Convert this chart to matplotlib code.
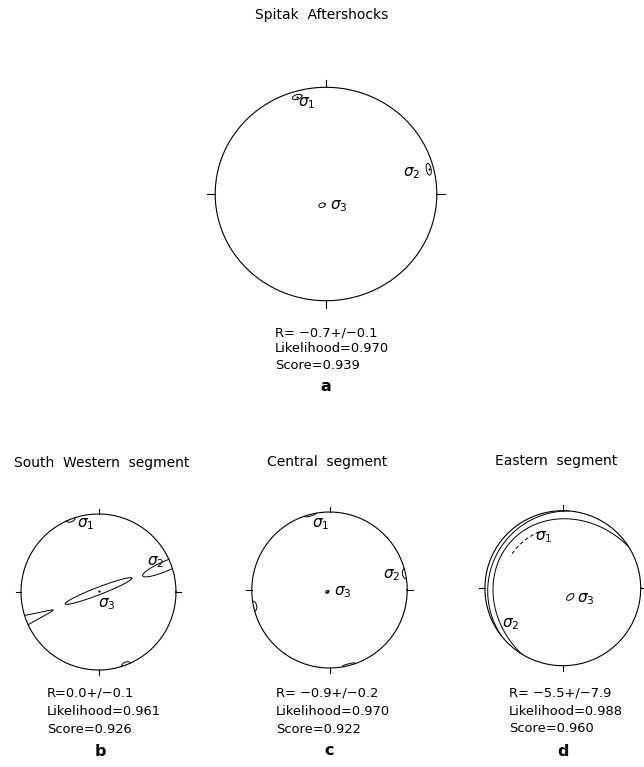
import numpy as np
import matplotlib
matplotlib.use("Agg")
import matplotlib.pyplot as plt

plt.rcParams['font.family'] = ['DejaVu Sans']
plt.rcParams['mathtext.fontset'] = 'dejavusans'

W, H = 644, 767

# ---- inversion results -------------------------------------------------
panel_letters = ["a", "b", "c", "d"]
panel_titles = ["Spitak  Aftershocks", "South  Western  segment",
                "Central  segment", "Eastern  segment"]
r_values = ["R= \u22120.7+/\u22120.1", "R=0.0+/\u22120.1",
            "R= \u22120.9+/\u22120.2", "R= \u22125.5+/\u22127.9"]
likelihoods = [0.970, 0.961, 0.970, 0.988]
scores = [0.939, 0.926, 0.922, 0.960]

# principal stress axes sigma1, sigma2, sigma3 (degrees)
stress_trend = [[344, 76, 199], [339, 69, 0], [345.5, 78, 231], [330, 250, 140]]
stress_plunge = [[6, 5, 81], [0, 7, 89], [0, 0, 87], [4, 6, 78]]

# confidence regions around each axis in projected units:
# semi-major, semi-minor, orientation (deg); zero size = not drawn
conf_major = [[0.045, 0.055, 0.030], [0.060, 0.330, 0.460],
              [0.085, 0.065, 0.022], [0.0, 0.0, 0.055]]
conf_minor = [[0.022, 0.022, 0.020], [0.035, 0.065, 0.048],
              [0.022, 0.040, 0.016], [0.0, 0.0, 0.032]]
conf_angle = [[17, 100, 20], [22, 23, 21], [15, 102, 30], [0, 0, 40]]
marked_axes = [[0, 1], [2], [2], []]

# broad sigma1/sigma2 confidence limits of the Eastern segment
# (centre x, centre y, semi-major, semi-minor, orientation, arc start, arc end, style)
east_limits = [
    (0.143, -0.143, 1.10, 0.975, 135, 0, 360, '-'),
    (0.071, -0.038, 1.035, 1.035, 0, 0, 360, '-'),
    (0.143, -0.143, 0.99, 0.88, 135, -20, 12, (0, (4, 2.5))),
]

# ---- layout of the four nets (pixel centre and radii) ------------------
net_geom = [(326.0, 194.0, 110.8, 106.7),
            (98.5, 592.0, 77.5, 78.0),
            (329.5, 590.0, 77.7, 78.0),
            (562.8, 588.2, 77.9, 77.5)]
label_pos = [[(-0.252, 0.854), (0.694, 0.197), (0.036, -0.113)],
             [(-0.28, 0.865), (0.622, 0.387), (-0.003, -0.155)],
             [(-0.225, 0.85), (0.689, 0.193), (0.058, -0.026)],
             [(-0.356, 0.656), (-0.779, -0.459), (0.182, -0.138)]]
title_xy = [(322, 18.5), (101.5, 466.5), (327, 466), (556.5, 464.5)]
text_left = [275, 46.7, 276, 509]
text_base = [[336, 352.5, 369], [697, 715, 733], [697, 715, 733], [696.5, 715, 732.5]]
letter_xy = [(326, 391), (100, 756), (329, 755), (563, 755.5)]

LW = 0.8
fig = plt.figure(figsize=(W / 100, H / 100), dpi=100)
fig.patch.set_facecolor('white')


def fx(x):
    return x / W


def fy(y):
    return 1 - y / H


def project(trend, plunge):
    """Lower-hemisphere equal-area projection."""
    r = np.sqrt(2) * np.sin(np.radians(90 - plunge) / 2)
    return r * np.sin(np.radians(trend)), r * np.cos(np.radians(trend))


def draw_region(ax, cx, cy, a, b, ang, t0=0, t1=360, fold=True, **kw):
    t = np.radians(np.linspace(t0, t1, 2881))
    A = np.radians(ang)
    x = cx + a * np.cos(t) * np.cos(A) - b * np.sin(t) * np.sin(A)
    y = cy + a * np.cos(t) * np.sin(A) + b * np.sin(t) * np.cos(A)
    r = np.hypot(x, y)
    inside = r <= 1
    cuts = np.flatnonzero(np.diff(inside.astype(int))) + 1
    runs = np.split(np.arange(len(t)), cuts)
    if (t1 - t0) >= 360 and len(runs) > 1 and inside[0] == inside[-1]:
        runs[0] = np.concatenate([runs[-1], runs[0]])
        runs = runs[:-1]
    for run in runs:
        if inside[run[0]]:
            ax.plot(x[run], y[run], **kw)
        elif fold:
            # directions above the horizontal re-enter at the antipode
            rr = np.sqrt(np.clip(2 - r[run] ** 2, 0, None))
            ax.plot(-x[run] / r[run] * rr, -y[run] / r[run] * rr, **kw)


L = 1.12
for k in range(4):
    cx, cy, rx, ry = net_geom[k]
    ax = fig.add_axes([fx(cx - L * rx), fy(cy + L * ry), 2 * L * rx / W, 2 * L * ry / H])
    ax.set_xlim(-L, L)
    ax.set_ylim(-L, L)
    ax.axis('off')

    th = np.linspace(0, 2 * np.pi, 721)
    ax.plot(np.cos(th), np.sin(th), color='black', lw=LW, clip_on=False)
    tl = 0.07
    for dx, dy in [(0, 1), (1, 0), (0, -1), (-1, 0)]:
        ax.plot([dx, dx * (1 + tl)], [dy, dy * (1 + tl)], color='black', lw=LW, clip_on=False)

    for i in range(3):
        px, py = project(stress_trend[k][i], stress_plunge[k][i])
        if conf_major[k][i] > 0:
            draw_region(ax, px, py, conf_major[k][i], conf_minor[k][i], conf_angle[k][i],
                        color='black', lw=0.7, clip_on=False)
        if i in marked_axes[k]:
            ax.plot(px, py, 'o', color='black', ms=1.6, mew=0)
        lx, ly = label_pos[k][i]
        ax.text(lx, ly, r'$\sigma_{%d}$' % (i + 1), fontsize=11, ha='left', va='center')

    if k == 3:
        for cxe, cye, a, b, ang, t0, t1, ls in east_limits:
            draw_region(ax, cxe, cye, a, b, ang, t0, t1, fold=False,
                        color='black', lw=0.7, ls=ls)

    tx, ty = title_xy[k]
    fig.text(fx(tx), fy(ty), panel_titles[k], fontsize=10, ha='center', va='baseline')
    lines = [r_values[k], "Likelihood=%.3f" % likelihoods[k], "Score=%.3f" % scores[k]]
    for s, yb in zip(lines, text_base[k]):
        fig.text(fx(text_left[k]), fy(yb), s, fontsize=9.4, ha='left', va='baseline')
    lx, ly = letter_xy[k]
    fig.text(fx(lx), fy(ly), panel_letters[k], fontsize=11.5, fontweight='bold',
             ha='center', va='baseline')

fig.savefig("out.png", dpi=100, facecolor='white')
